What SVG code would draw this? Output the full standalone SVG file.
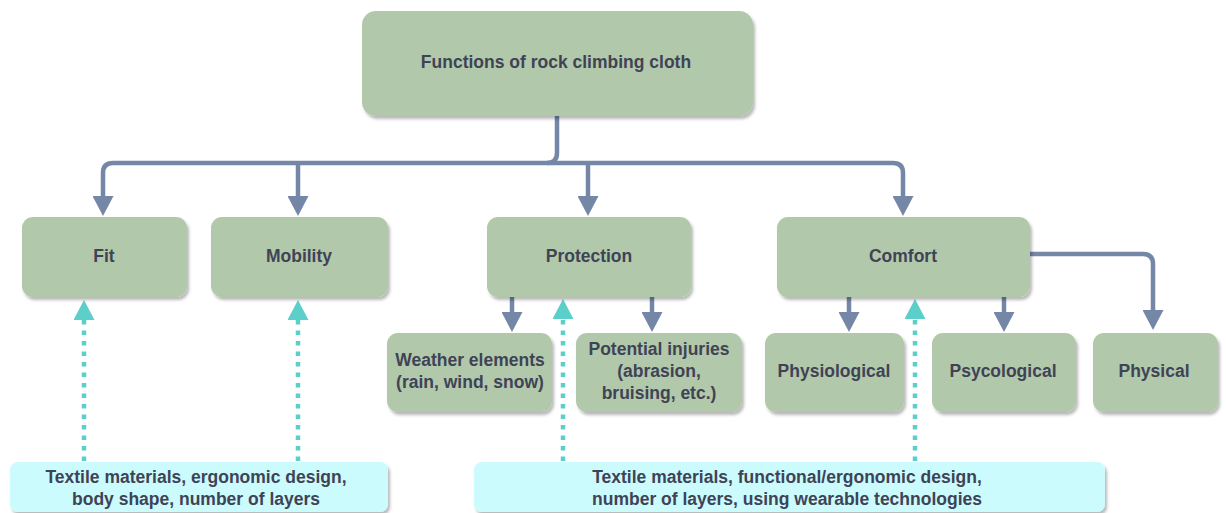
<svg xmlns="http://www.w3.org/2000/svg" width="1226" height="513" viewBox="0 0 1226 513">
  <defs>
    <filter id="shadow" x="-10%" y="-10%" width="130%" height="140%">
      <feDropShadow dx="2" dy="3" stdDeviation="1.5" flood-color="#000" flood-opacity="0.28"/>
    </filter>
    <marker id="arrow" viewBox="0 0 20 21" markerUnits="userSpaceOnUse" markerWidth="20" markerHeight="21" refX="0" refY="10.5" orient="auto">
      <path d="M0 0 L20 10.5 L0 21 Z" fill="#7487a7"/>
    </marker>
    <marker id="arrowCyan" viewBox="0 0 20 21" markerUnits="userSpaceOnUse" markerWidth="20" markerHeight="21" refX="0" refY="10.5" orient="auto">
      <path d="M0 0 L20 10.5 L0 21 Z" fill="#5ccfcb"/>
    </marker>
    <style>
      .node rect { fill: #b2c8aa; filter: url(#shadow); }
      .note rect { fill: #cbfbfd; filter: url(#shadow); }
      text { font-family: "Liberation Sans", Arial, sans-serif; font-weight: bold; font-size: 17.5px; fill: #3f4356; text-anchor: middle; }
      .link { fill: none; stroke: #7487a7; stroke-width: 4.5; marker-end: url(#arrow); }
      .hint { fill: none; stroke: #5ccfcb; stroke-width: 4.5; stroke-dasharray: 4.5 6; marker-end: url(#arrowCyan); }
    </style>
  </defs>

  <!-- connectors -->
  <g id="connectors">
    <path class="link" d="M557 116 V153 Q557 163 547 163 H113 Q103 163 103 173 V196"/>
    <path class="link" d="M547 163 H893 Q903 163 903 173 V196"/>
    <path class="link" d="M298 163 V196"/>
    <path class="link" d="M588 163 V196"/>
    <path class="link" d="M512 297 V312"/>
    <path class="link" d="M652 297 V312"/>
    <path class="link" d="M849 297 V312"/>
    <path class="link" d="M1004 297 V312"/>
    <path class="link" d="M1030 254 H1143 Q1153 254 1153 264 V310"/>
    <path class="hint" d="M84 461 V320"/>
    <path class="hint" d="M298 461 V320"/>
    <path class="hint" d="M563 461 V319"/>
    <path class="hint" d="M915 461 V319"/>
  </g>

  <g id="root" class="node">
    <rect x="362" y="11" width="391" height="105" rx="14"/>
    <text x="556" y="68">Functions of rock climbing cloth</text>
  </g>

  <g id="fit" class="node">
    <rect x="22" y="217" width="165" height="80" rx="11"/>
    <text x="104" y="262">Fit</text>
  </g>

  <g id="mobility" class="node">
    <rect x="211" y="217" width="177" height="80" rx="11"/>
    <text x="299" y="262">Mobility</text>
  </g>

  <g id="protection" class="node">
    <rect x="487" y="217" width="204" height="80" rx="11"/>
    <text x="589" y="262">Protection</text>
  </g>

  <g id="comfort" class="node">
    <rect x="777" y="217" width="253" height="80" rx="11"/>
    <text x="903" y="262">Comfort</text>
  </g>

  <g id="weather" class="node">
    <rect x="387" y="333" width="165" height="79" rx="11"/>
    <text x="470" y="366">Weather elements</text>
    <text x="470" y="388">(rain, wind, snow)</text>
  </g>

  <g id="injuries" class="node">
    <rect x="576" y="333" width="166" height="79" rx="11"/>
    <text x="659" y="355">Potential injuries</text>
    <text x="659" y="377">(abrasion,</text>
    <text x="659" y="399">bruising, etc.)</text>
  </g>

  <g id="physiological" class="node">
    <rect x="765" y="333" width="139" height="79" rx="11"/>
    <text x="834" y="377">Physiological</text>
  </g>

  <g id="psycological" class="node">
    <rect x="932" y="333" width="144" height="79" rx="11"/>
    <text x="1003" y="377">Psycological</text>
  </g>

  <g id="physical" class="node">
    <rect x="1093" y="333" width="125" height="79" rx="11"/>
    <text x="1154" y="377">Physical</text>
  </g>

  <g id="factors-fit" class="note">
    <rect x="10" y="462" width="378" height="50" rx="8"/>
    <text x="196" y="483">Textile materials, ergonomic design,</text>
    <text x="196" y="505">body shape, number of layers</text>
  </g>

  <g id="factors-protection" class="note">
    <rect x="474" y="462" width="631" height="50" rx="8"/>
    <text x="787" y="483">Textile materials, functional/ergonomic design,</text>
    <text x="787" y="505">number of layers, using wearable technologies</text>
  </g>
</svg>
